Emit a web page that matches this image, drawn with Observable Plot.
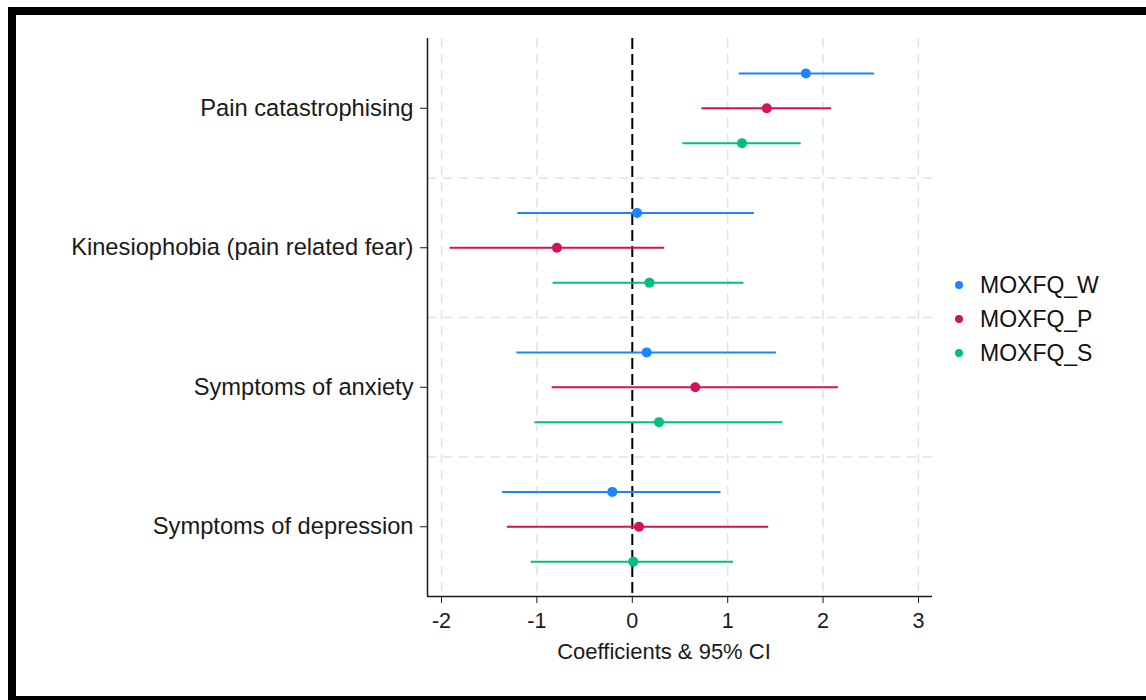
<!DOCTYPE html>
<html><head><meta charset="utf-8">
<script src="https://cdn.jsdelivr.net/npm/d3@7"></script>
<script src="https://cdn.jsdelivr.net/npm/@observablehq/plot@0.6"></script>
<style>
html,body{margin:0;padding:0;background:#fff;overflow:hidden;width:1146px;height:700px;}
#frame{position:absolute;left:8px;top:7px;width:1160px;height:697px;border:8px solid #000;box-sizing:border-box;}
#chart{position:absolute;left:0;top:0;}
#legend{position:absolute;left:955px;top:268px;font-family:"Liberation Sans",Arial,sans-serif;font-size:23px;color:#111;}
.row{display:flex;align-items:center;height:34px;}
.sw{width:8px;height:8px;border-radius:50%;margin-right:17px;}
#xtitle{position:absolute;left:464px;width:400px;top:641px;text-align:center;font-family:"Liberation Sans",Arial,sans-serif;font-size:22px;line-height:22px;color:#1a1a1a;}
</style></head><body>
<div id="frame"></div>
<div id="chart"></div>
<div id="legend"></div>
<div id="xtitle"></div>
<script>
const categories = ["Pain catastrophising", "Kinesiophobia (pain related fear)", "Symptoms of anxiety", "Symptoms of depression"];
const series = ["MOXFQ_W", "MOXFQ_P", "MOXFQ_S"];
const colors = ["#1a85ff", "#d41159", "#00bf7f"];

const coefW = [1.82, 0.05, 0.15, -0.21];
const lowW  = [1.12, -1.20, -1.21, -1.36];
const highW = [2.54, 1.28, 1.51, 0.93];

const coefP = [1.41, -0.79, 0.66, 0.07];
const lowP  = [0.73, -1.91, -0.84, -1.31];
const highP = [2.09, 0.34, 2.16, 1.43];

const coefS = [1.15, 0.18, 0.28, 0.01];
const lowS  = [0.53, -0.83, -1.02, -1.06];
const highS = [1.77, 1.17, 1.58, 1.06];

const xTicks = [-2, -1, 0, 1, 2, 3];
const xDomain = [-2.147, 3.147];
const yDomain = [-0.5, 3.5];
const separators = [0.5, 1.5, 2.5];
const xLabel = "Coefficients & 95% CI";

const seriesData = [
  {coef: coefW, low: lowW, high: highW},
  {coef: coefP, low: lowP, high: highP},
  {coef: coefS, low: lowS, high: highS}
];
const rows = [];
categories.forEach((c, i) => {
  seriesData.forEach((s, j) => {
    rows.push({cat: c, series: series[j], pos: i + (j - 1) * 0.25, coef: s.coef[i], lo: s.low[i], hi: s.high[i]});
  });
});

const font = "Liberation Sans, Arial, sans-serif";
const plot = Plot.plot({
  width: 1146,
  height: 700,
  marginLeft: 427,
  marginRight: 214,
  marginTop: 38,
  marginBottom: 104,
  style: {fontFamily: font, background: "transparent", color: "#1a1a1a"},
  x: {domain: xDomain},
  y: {domain: yDomain, reverse: true},
  color: {domain: series, range: colors},
  marks: [
    Plot.gridX(xTicks, {stroke: "#e2e2e2", strokeOpacity: 1, strokeWidth: 1.5, strokeDasharray: "9,7"}),
    Plot.gridY(separators, {stroke: "#e2e2e2", strokeOpacity: 1, strokeWidth: 1.5, strokeDasharray: "9,7"}),
    Plot.ruleX([0], {stroke: "#000", strokeWidth: 2, strokeDasharray: "11,5"}),
    Plot.ruleY(rows, {y: "pos", x1: "lo", x2: "hi", stroke: "series", strokeWidth: 2}),
    Plot.dot(rows, {x: "coef", y: "pos", fill: "series", r: 5}),
    Plot.ruleX([xDomain[0]], {stroke: "#1a1a1a", strokeWidth: 1.5}),
    Plot.ruleY([yDomain[1]], {stroke: "#1a1a1a", strokeWidth: 1.5}),
    Plot.axisX(xTicks, {
      tickSize: 7, tickPadding: 9, fontSize: 21.5, tickFormat: d => String(d), label: null
    }),
    Plot.axisY([0, 1, 2, 3], {
      tickSize: 7, tickPadding: 7, fontSize: 23.7, tickFormat: i => categories[i], label: null
    })
  ]
});
document.getElementById("chart").appendChild(plot);
document.getElementById("xtitle").textContent = xLabel;

const legend = document.getElementById("legend");
series.forEach((s, j) => {
  const row = document.createElement("div");
  row.className = "row";
  const sw = document.createElement("span");
  sw.className = "sw";
  sw.style.background = colors[j];
  const t = document.createElement("span");
  t.textContent = s;
  row.appendChild(sw);
  row.appendChild(t);
  legend.appendChild(row);
});
</script>
</body></html>
